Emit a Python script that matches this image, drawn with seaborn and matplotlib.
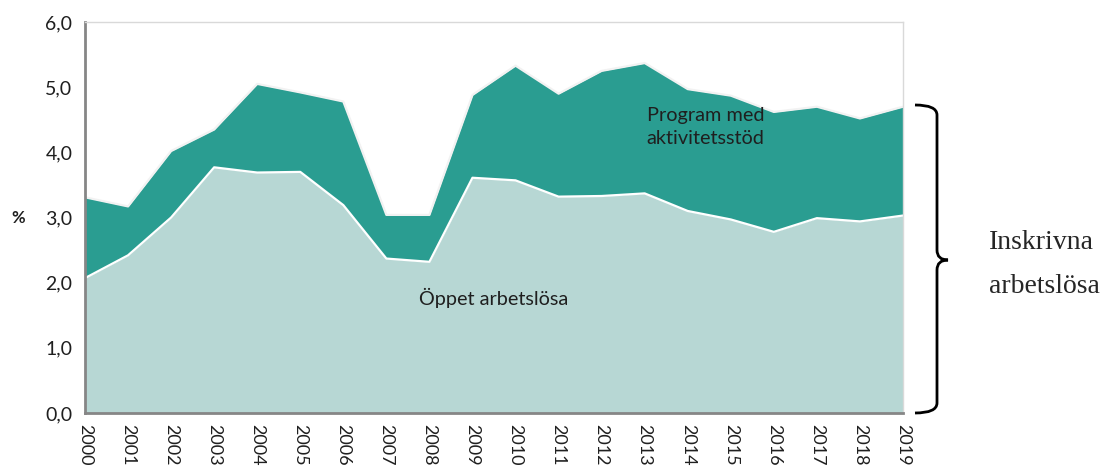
import numpy as np
import matplotlib
matplotlib.use("Agg")
import matplotlib.pyplot as plt
import seaborn as sns
from matplotlib.path import Path
from matplotlib.patches import PathPatch

years = list(range(2000, 2020))
oppet = [2.07, 2.42, 3.00, 3.77, 3.69, 3.70, 3.19, 2.37, 2.32, 3.61,
         3.57, 3.32, 3.33, 3.37, 3.10, 2.97, 2.78, 2.99, 2.94, 3.03]
totalt = [3.31, 3.17, 4.02, 4.35, 5.05, 4.92, 4.78, 3.04, 3.04, 4.88,
          5.33, 4.90, 5.25, 5.37, 4.97, 4.87, 4.62, 4.70, 4.52, 4.70]
ytick_vals = [0, 1, 2, 3, 4, 5, 6]

sns.set_style("white")
plt.rcParams['font.family'] = ['Lato', 'DejaVu Sans']

dark = "#2a9d91"
light = "#b7d7d4"
txt = "#1f1f1f"

W, H = 1117, 469
fig = plt.figure(figsize=(W / 100, H / 100), dpi=100)
ax = fig.add_axes([85 / W, 1 - 413 / H, (903 - 85) / W, (413 - 22) / H])

ax.fill_between(years, 0, totalt, color=dark, lw=0)
ax.fill_between(years, 0, oppet, color=light, lw=0)
sns.lineplot(x=years, y=totalt, color="#f2f2f2", lw=1.6, ax=ax)
sns.lineplot(x=years, y=oppet, color="white", lw=1.6, ax=ax)

ax.set_xlim(2000, 2019)
ax.set_ylim(0, 6)
ax.set_xticks(years)
ax.set_xticklabels([str(y) for y in years], rotation=-90, fontsize=13, color=txt)
ax.set_yticks(ytick_vals)
ax.set_yticklabels([f"{v:.1f}".replace(".", ",") for v in ytick_vals], fontsize=14, color=txt)
ax.tick_params(axis="both", direction="out", length=5, width=1.5, color="#868686")
ax.tick_params(axis="y", pad=4)
ax.tick_params(axis="x", pad=3)

for s in ["left", "bottom"]:
    ax.spines[s].set_color("#868686")
    ax.spines[s].set_linewidth(2)
for s in ["top", "right"]:
    ax.spines[s].set_color("#d9d9d9")
    ax.spines[s].set_linewidth(1)
ax.spines["bottom"].set_zorder(5)

ax.text(2013.05, 4.39, "Program med\naktivitetsstöd", fontsize=14.3, color=txt,
        va="center", ha="left", linespacing=1.45)
ax.text(2007.75, 1.76, "Öppet arbetslösa", fontsize=14.3, color=txt, va="center", ha="left")


# curly brace to the right of the plot
def fx(px):
    return px / W


def fy(py):
    return 1 - py / H


fig.text(fx(18), fy(218), "%", fontsize=12, fontweight="bold", color=txt,
         ha="center", va="center")

pts = [(915, 105), (937, 105), (937, 115), (937, 125),
       (937, 250), (937, 260), (948, 260),
       (937, 260), (937, 270), (937, 403),
       (937, 413), (915, 413)]
codes = [Path.MOVETO, Path.CURVE3, Path.CURVE3, Path.LINETO,
         Path.LINETO, Path.CURVE3, Path.CURVE3,
         Path.CURVE3, Path.CURVE3, Path.LINETO,
         Path.CURVE3, Path.CURVE3]
verts = [(fx(x), fy(y)) for x, y in pts]
brace = PathPatch(Path(verts, codes), transform=fig.transFigure, fill=False,
                  lw=2, edgecolor="black", capstyle="butt")
fig.patches.append(brace)

serif = ["Liberation Serif", "DejaVu Serif"]
fig.text(fx(989), fy(242), "Inskrivna", fontsize=20, family=serif, va="center", ha="left")
fig.text(fx(989), fy(286), "arbetslösa", fontsize=20, family=serif, va="center", ha="left")

fig.savefig("out.png", dpi=100)
